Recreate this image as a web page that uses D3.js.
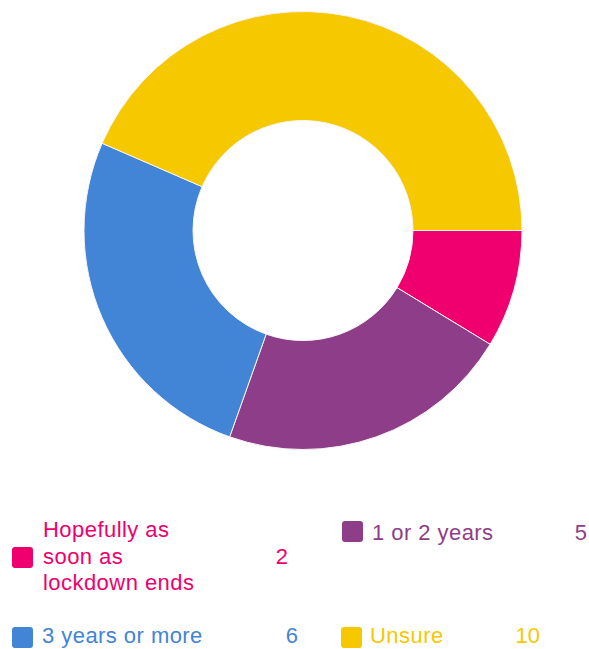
<!DOCTYPE html>
<html>
<head>
<meta charset="utf-8">
<script src="https://cdn.jsdelivr.net/npm/d3@7"></script>
<style>
  body { margin: 0; background: #fff; }
  svg { display: block; }
</style>
</head>
<body>
<script>
'use strict';

// chart data
const answers = ["Hopefully as soon as lockdown ends", "1 or 2 years", "3 years or more", "Unsure"];
const counts = [2, 5, 6, 10];
const palette = ["#f0006e", "#8e3e88", "#4284d6", "#f6c800"];

(function() {

  let svg = "";
  const width = 589;
  const height = 649;

  window.onload = function() {
    svg = d3.select('body')
      .append('svg')
      .attr('width', width)
      .attr('height', height);

    drawDonut();
    drawLegend();
  }

  // donut starts at 3 o'clock and goes clockwise
  function drawDonut() {
    let rows = answers.map((a, i) => ({ answer: a, count: counts[i], color: palette[i] }));

    let pie = d3.pie()
      .sort(null)
      .value((d) => d.count)
      .startAngle(Math.PI / 2)
      .endAngle(Math.PI / 2 + 2 * Math.PI);

    let arc = d3.arc()
      .innerRadius(110)
      .outerRadius(219);

    let g = svg.append('g')
      .attr('transform', 'translate(303, 230.5)');

    g.selectAll('.slice')
      .data(pie(rows))
      .enter()
      .append('path')
        .attr('class', 'slice')
        .attr('d', arc)
        .attr('fill', (d) => d.data.color)
        .attr('stroke', '#f4f4f4')
        .attr('stroke-width', 1);
  }

  // legend: two columns, two rows
  function drawLegend() {
    // where each entry sits (square left/top, text x, first baseline, value right edge)
    let slots = [
      { sx: 12,  sy: 547, tx: 43,  ty: 537, vx: 288, vy: 564 },
      { sx: 342, sy: 521, tx: 372, ty: 540, vx: 587, vy: 540 },
      { sx: 12,  sy: 627, tx: 42,  ty: 643, vx: 298, vy: 643 },
      { sx: 341, sy: 627, tx: 370, ty: 643, vx: 540, vy: 643 }
    ];

    answers.forEach((answer, i) => {
      let s = slots[i];
      let color = palette[i];

      svg.append('rect')
        .attr('x', s.sx)
        .attr('y', s.sy)
        .attr('width', 21)
        .attr('height', 21)
        .attr('rx', 3)
        .attr('fill', color);

      let label = svg.append('text')
        .attr('x', s.tx)
        .attr('y', s.ty)
        .attr('fill', color)
        .style('font-family', '"Liberation Sans", Arial, sans-serif')
        .style('font-size', '22px')
        .style('letter-spacing', '0.45px');
      wrapText(label, answer, s.tx, 170, 26.5);

      svg.append('text')
        .attr('x', s.vx)
        .attr('y', s.vy)
        .attr('text-anchor', 'end')
        .attr('fill', color)
        .style('font-family', '"Liberation Sans", Arial, sans-serif')
        .style('font-size', '22px')
        .text(counts[i]);
    });
  }

  // break a label into lines no wider than maxWidth
  function wrapText(textSel, str, x, maxWidth, lineHeight) {
    let words = str.split(' ');
    let line = [];
    let tspan = textSel.append('tspan').attr('x', x).attr('dy', 0);
    words.forEach((w) => {
      line.push(w);
      tspan.text(line.join(' '));
      if (tspan.node().getComputedTextLength() > maxWidth && line.length > 1) {
        line.pop();
        tspan.text(line.join(' '));
        line = [w];
        tspan = textSel.append('tspan')
          .attr('x', x)
          .attr('dy', lineHeight)
          .text(w);
      }
    });
  }

})();
</script>
</body>
</html>
